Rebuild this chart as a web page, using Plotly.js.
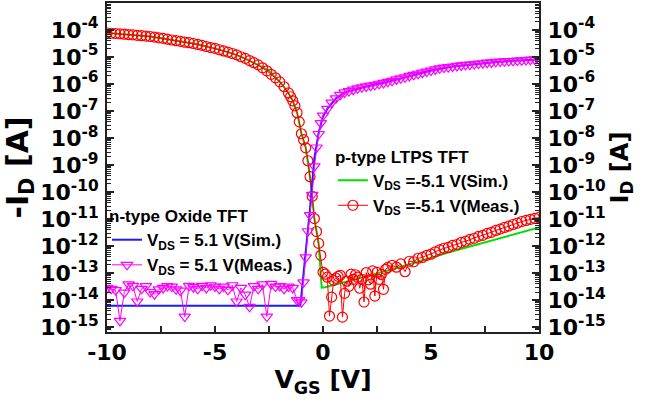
<!DOCTYPE html>
<html>
<head>
<meta charset="utf-8">
<script src="https://cdn.plot.ly/plotly-3.0.1.min.js"></script>
<style>html,body{margin:0;padding:0;background:#fff}#chart{width:645px;height:409px}</style>
</head>
<body>
<div id="chart"></div>
<script>
// ---------- data (log10 of current in A) ----------
// p-type LTPS TFT, measured (-I_D)
const pMeasVgs = [-10,-9.8,-9.6,-9.4,-9.2,-9,-8.8,-8.6,-8.4,-8.2,-8,-7.8,-7.6,-7.4,-7.2,-7,-6.8,-6.6,-6.4,-6.2,-6,-5.8,-5.6,-5.4,-5.2,-5,-4.8,-4.6,-4.4,-4.2,-4,-3.8,-3.6,-3.4,-3.2,-3,-2.8,-2.6,-2.4,-2.2,-2,-1.8,-1.6,
  -1.5,-1.4,-1.3,-1.2,-1.1,-1,-0.9,-0.8,-0.7,-0.6,-0.5,-0.4,-0.3,-0.2,-0.1,0,
  0.1,0.2,0.3,0.4,0.5,0.6,0.7,0.8,0.9,1,1.1,1.2,1.3,1.4,1.5,1.6,1.7,1.8,1.9,2,2.1,2.2,2.3,2.4,2.5,2.6,2.7,2.8,2.9,3,
  3.2,3.4,3.6,3.8,4,4.2,4.4,4.6,4.8,5,5.2,5.4,5.6,5.8,6,6.2,6.4,6.6,6.8,7,7.2,7.4,7.6,7.8,8,8.2,8.4,8.6,8.8,9,9.2,9.4,9.6,9.8,10];
const pMeasLogI = [-4.11,-4.12,-4.13,-4.14,-4.155,-4.17,-4.18,-4.20,-4.21,-4.225,-4.24,-4.26,-4.29,-4.31,-4.34,-4.37,-4.395,-4.42,-4.45,-4.47,-4.50,-4.535,-4.57,-4.61,-4.65,-4.68,-4.73,-4.775,-4.82,-4.87,-4.92,-4.99,-5.05,-5.13,-5.21,-5.29,-5.40,-5.51,-5.64,-5.77,-5.92,-6.10,-6.33,
  -6.47,-6.62,-6.81,-7.06,-7.40,-7.84,-8.06,-8.36,-8.84,-9.43,-10.16,-10.98,-11.46,-11.90,-12.34,-12.97,
  -13.04,-13.15,-14.59,-13.89,-13.27,-13.19,-13.12,-13.08,-14.63,-13.75,-13.30,-13.49,-13.04,-13.23,-13.06,-13.15,-13.56,-13.23,-14.07,-12.98,-13.25,-13.41,-12.92,-13.85,-12.97,-13.23,-13.05,-13.60,-12.86,-12.79,
  -12.71,-12.78,-12.66,-12.95,-12.56,-12.58,-12.45,-12.42,-12.34,-12.30,-12.21,-12.14,-12.08,-12.05,-11.97,-11.94,-11.86,-11.82,-11.75,-11.71,-11.64,-11.60,-11.53,-11.49,-11.42,-11.37,-11.31,-11.26,-11.20,-11.15,-11.09,-11.05,-11.01,-10.97,-10.94];

// p-type LTPS TFT, simulated
const pSimVgs = [-10,-8,-6,-5,-4,-3,-2.5,-2,-1.6,-1.4,-1.2,-1.0,-0.8,-0.6,-0.4,-0.2,-0.06,0.1,2,4,6,8,10];
const pSimLogI = [-4.11,-4.24,-4.50,-4.68,-4.92,-5.29,-5.51,-5.92,-6.33,-6.62,-7.06,-7.84,-8.36,-9.43,-10.98,-11.90,-13.54,-13.52,-13.12,-12.67,-12.19,-11.75,-11.31];

// n-type Oxide TFT, measured (I_D)
const nMeasVgs = [-10,-9.8,-9.6,-9.4,-9.2,-9,-8.8,-8.6,-8.4,-8.2,-8,-7.8,-7.6,-7.4,-7.2,-7,-6.8,-6.6,-6.4,-6.2,-6,-5.8,-5.6,-5.4,-5.2,-5,-4.8,-4.6,-4.4,-4.2,-4,-3.8,-3.6,-3.4,-3.2,-3,-2.8,-2.6,-2.4,-2.2,-2,-1.8,-1.6,-1.4,-1.2,
  -1.1,-1,-0.9,-0.8,-0.7,-0.6,-0.5,-0.4,-0.3,-0.2,-0.1,0,
  0.2,0.4,0.6,
  0.8,1,1.2,1.4,1.6,1.8,2,2.2,2.4,2.6,2.8,3,3.2,3.4,3.6,3.8,4,4.2,4.4,4.6,4.8,5,5.2,5.4,5.6,5.8,6,6.2,6.4,6.6,6.8,7,7.2,7.4,7.6,7.8,8,8.2,8.4,8.6,8.8,9,9.2,9.4,9.6,9.8,10];
const nMeasLogI = [-13.55,-13.58,-13.63,-14.77,-13.72,-13.42,-13.47,-14.05,-13.58,-13.48,-13.70,-13.78,-13.60,-13.55,-13.48,-13.50,-13.60,-13.65,-14.61,-13.47,-13.52,-13.58,-13.47,-13.55,-13.45,-13.50,-13.58,-13.50,-13.62,-13.45,-14.05,-13.55,-13.80,-14.25,-13.48,-13.58,-13.42,-14.61,-13.40,-13.50,-13.48,-13.58,-13.50,-13.55,-14.00,
  -14.00,-14.08,-13.34,-12.42,-11.45,-10.85,-10.10,-9.05,-8.35,-7.85,-7.45,-7.17,
  -6.92,-6.69,-6.53,
  -6.40,-6.31,-6.26,-6.21,-6.16,-6.12,-6.09,-6.06,-6.03,-5.99,-5.96,-5.92,-5.88,-5.83,-5.79,-5.75,-5.70,-5.66,-5.62,-5.58,-5.54,-5.50,-5.46,-5.42,-5.39,-5.37,-5.35,-5.33,-5.31,-5.29,-5.28,-5.26,-5.24,-5.23,-5.21,-5.20,-5.18,-5.17,-5.16,-5.15,-5.14,-5.13,-5.12,-5.11,-5.10,-5.09,-5.09];

// n-type Oxide TFT, simulated
const nSimVgs = [-10,-1.05,-0.6,-0.4,-0.2,0,0.2,0.6,1,2,3,4,5,6,7,8,9,10];
const nSimLogI = [-14.21,-14.21,-10.6,-8.75,-7.8,-7.2,-6.92,-6.53,-6.31,-6.09,-5.92,-5.70,-5.50,-5.35,-5.26,-5.18,-5.13,-5.09];

// tick labels
const xTickVals = [-10,-5,0,5,10];
const xTickText = ['-10','-5','0','5','10'];
const yExponents = [-4,-5,-6,-7,-8,-9,-10,-11,-12,-13,-14,-15];
const yTickText = yExponents.map(e => '10<sup>' + e + '</sup>');
const yTickVals = yExponents.map(e => Math.pow(10, e));

// legend texts
const nLegendTitle = 'n-type Oxide TFT';
const pLegendTitle = 'p-type LTPS TFT';
const nNames = ['V<sub>DS</sub> = 5.1 V(Sim.)', 'V<sub>DS</sub> = 5.1 V(Meas.)'];
const pNames = ['V<sub>DS</sub> =-5.1 V(Sim.)', 'V<sub>DS</sub> =-5.1 V(Meas.)'];

// ---------- build ----------
const toA = arr => arr.map(v => Math.pow(10, v));
const minorVals = [];
for (let k = -16; k <= -3; k++) for (let m = 2; m <= 9; m++) minorVals.push(m * Math.pow(10, k));

const tickFont = {family: 'DejaVu Sans', size: 22, weight: 'bold', color: '#000'};
const legFont = {family: 'Liberation Sans', size: 17, weight: 'bold', color: '#000'};
const yRange = [-15.18, -3.0];

const traces = [
  {x: nSimVgs, y: toA(nSimLogI), name: nNames[0], mode: 'lines', yaxis: 'y2', legend: 'legend',
   line: {color: '#1a1aff', width: 2}},
  {x: nMeasVgs, y: toA(nMeasLogI), name: nNames[1], mode: 'lines+markers', yaxis: 'y2', legend: 'legend',
   line: {color: '#ff00ff', width: 1},
   marker: {symbol: 'triangle-down-open', size: 10, color: '#ff00ff', line: {width: 1.2}}},
  {x: pSimVgs, y: toA(pSimLogI), name: pNames[0], mode: 'lines', yaxis: 'y', legend: 'legend2',
   line: {color: '#00e000', width: 2}},
  {x: pMeasVgs, y: toA(pMeasLogI), name: pNames[1], mode: 'lines+markers', yaxis: 'y', legend: 'legend2',
   line: {color: '#ff0000', width: 1},
   marker: {symbol: 'circle-open', size: 10, color: '#ff0000', line: {width: 1.2}}}
];

const yCommon = {
  type: 'log', range: yRange, tickmode: 'array', tickvals: yTickVals, ticktext: yTickText,
  ticks: 'inside', ticklen: 7, tickwidth: 1.5, tickcolor: '#222',
  minor: {tickmode: 'array', tickvals: minorVals, ticks: 'inside', ticklen: 4, tickwidth: 1, tickcolor: '#222', showgrid: false},
  showline: true, linecolor: '#222', linewidth: 2, showgrid: false, zeroline: false,
  tickfont: tickFont, ticklabelstandoff: 2
};

const layout = {
  width: 645, height: 409,
  margin: {l: 107, r: 106, t: 3, b: 77},
  paper_bgcolor: '#fff', plot_bgcolor: '#fff',
  showlegend: true,
  xaxis: {
    range: [-10, 10], tickmode: 'array', tickvals: xTickVals, ticktext: xTickText,
    ticks: 'inside', ticklen: 6, tickwidth: 1.5, tickcolor: '#222',
    minor: {tickmode: 'array', tickvals: [-7.5, -2.5, 2.5, 7.5], ticks: 'inside', ticklen: 6, tickwidth: 1.5, tickcolor: '#222', showgrid: false},
    showline: true, linecolor: '#222', linewidth: 2, mirror: true, showgrid: false, zeroline: false,
    tickfont: tickFont,
    title: {text: 'V<sub>GS</sub> [V]', font: {family: 'DejaVu Sans', size: 25, weight: 'bold', color: '#000'}, standoff: 6}
  },
  yaxis: Object.assign({}, yCommon, {
    side: 'left',
    title: {text: '-I<sub>D</sub> [A]', font: {family: 'DejaVu Sans', size: 30, weight: 'bold', color: '#000'}, standoff: 3}
  }),
  yaxis2: Object.assign({}, yCommon, {
    side: 'right', overlaying: 'y',
    title: {text: 'I<sub>D</sub> [A]', font: {family: 'DejaVu Sans', size: 24, weight: 'bold', color: '#000'}, standoff: 4}
  }),
  legend: {
    x: 0.0, y: 0.401, xanchor: 'left', yanchor: 'top', bgcolor: 'rgba(0,0,0,0)', borderwidth: 0,
    font: legFont, title: {text: nLegendTitle, font: legFont, side: 'top'}, tracegroupgap: 0
  },
  legend2: {
    x: 0.523, y: 0.582, xanchor: 'left', yanchor: 'top', bgcolor: 'rgba(0,0,0,0)', borderwidth: 0,
    font: legFont, title: {text: pLegendTitle, font: legFont, side: 'top'}, tracegroupgap: 0
  }
};

Plotly.newPlot('chart', traces, layout, {displayModeBar: false, staticPlot: true});
</script>
</body>
</html>
